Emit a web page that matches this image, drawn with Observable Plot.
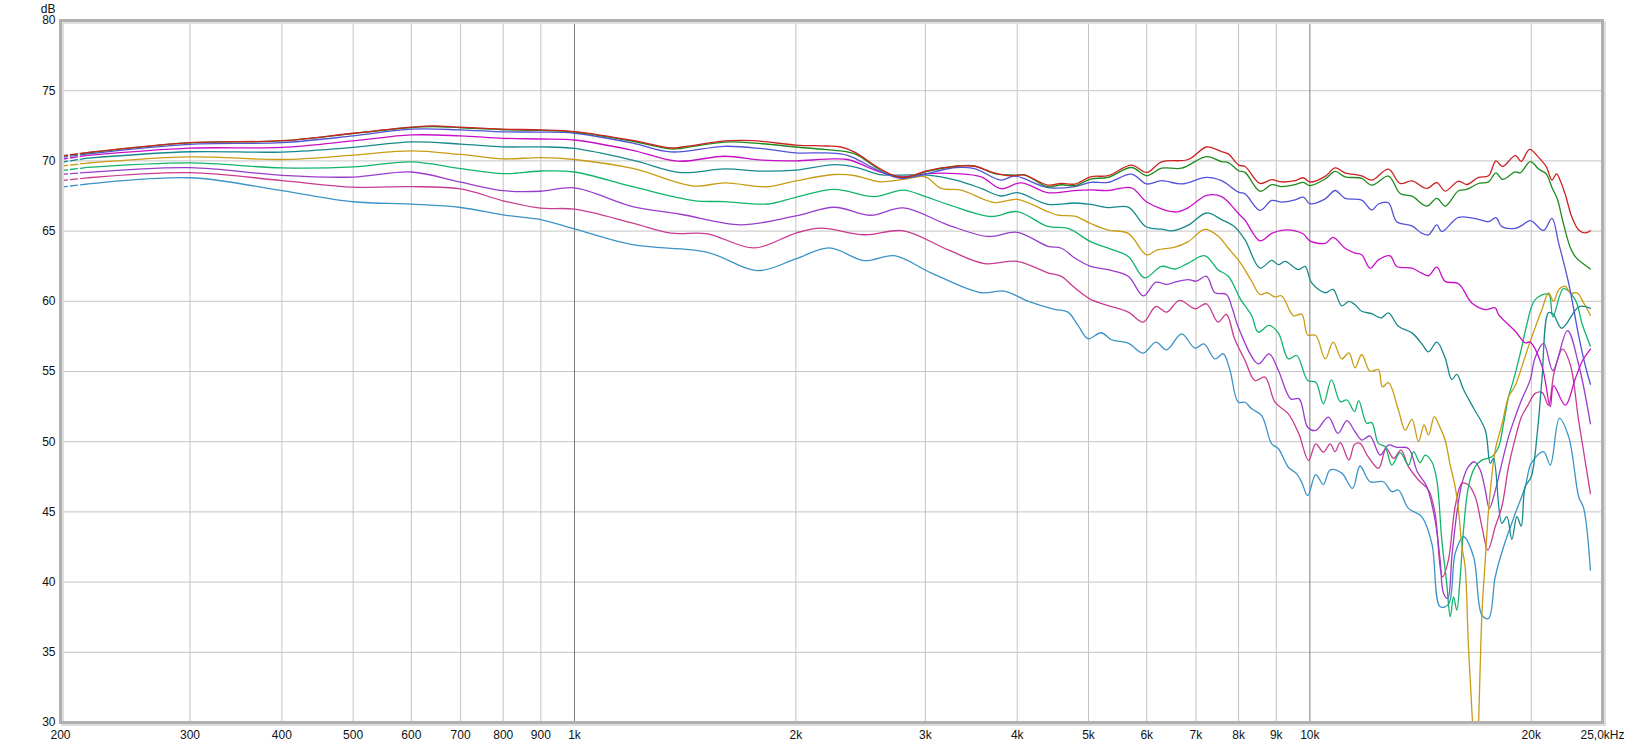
<!DOCTYPE html>
<html>
<head>
<meta charset="utf-8">
<script src="https://cdn.jsdelivr.net/npm/d3@7"></script>
<script src="https://cdn.jsdelivr.net/npm/@observablehq/plot@0.6"></script>
<style>
  html, body { margin: 0; padding: 0; background: #fff; }
  #chart svg { display: block; }
</style>
</head>
<body>
<div id="chart"></div>
<script>
// ---- axis ticks / labels ----
const xTicks = [200, 300, 400, 500, 600, 700, 800, 900, 1000, 2000, 3000, 4000, 5000, 6000, 7000, 8000, 9000, 10000, 20000, 25000];
const xTickLabels = ["200", "300", "400", "500", "600", "700", "800", "900", "1k", "2k", "3k", "4k", "5k", "6k", "7k", "8k", "9k", "10k", "20k", "25,0kHz"];
const xGrid = [300, 400, 500, 600, 700, 800, 900, 2000, 3000, 4000, 5000, 6000, 7000, 8000, 9000, 20000];
const xMajor = [1000, 10000];
const yTicks = [30, 35, 40, 45, 50, 55, 60, 65, 70, 75, 80];
const yUnit = "dB";
const dashedUpTo = 218;

// ---- series: [frequency Hz, level dB] ----
const red = [[200,70.35],[218,70.6],[300,71.3],[400,71.44],[500,71.97],[600,72.4],[642,72.5],[700,72.4],[800,72.26],[900,72.21],[1000,72.09],
[1200,71.46],[1352,70.92],[1400,70.99],[1600,71.42],[1701,71.46],[1800,71.39],[2000,71.13],[2200,71.06],[2303,70.99],[2400,70.64],[2600,69.46],[2722,68.94],[2800,68.82],[2897,68.99],[3000,69.27],[3300,69.62],[3499,69.62],[3723,69.15],[3923,68.94],[4091,68.99],[4402,68.28],
[4593,68.4],[4789,68.35],[5034,68.87],[5318,68.95],[5721,69.7],[6000,69.18],[6286,69.93],[6834,70.1],[7236,70.99],[7584,70.66],[7747,70.5],[8000,69.7],[8163,69.6],[8555,68.4],[8874,68.66],[9156,68.5],[9548,68.6],[9800,68.8],[10000,68.5],[10492,68.9],[10825,69.5],
[11164,69.15],[11762,68.94],[12137,68.63],[12788,69.41],[13268,68.39],[13766,68.58],[14423,68.04],[14881,68.46],[15275,67.85],[15927,68.56],[16347,68.32],[16959,68.82],[17499,68.94],[17906,70.0],[18283,69.6],[19024,70.37],[19380,69.97],[19900,70.82],[20470,70.25],[20960,69.59],[21340,68.64],[21640,69.07],[21900,68.6],[22240,67.64],[22720,65.98],[23200,65.08],[23700,64.87],[24070,65.03]];

const green = [[200,70.33],[218,70.58],[300,71.28],[400,71.42],[500,71.95],[600,72.38],[642,72.45],[700,72.36],[800,72.22],[900,72.17],[1000,72.05],
[1200,71.4],[1352,70.85],[1400,70.9],[1600,71.34],[1800,71.22],[2000,70.99],[2200,70.8],[2400,70.52],[2600,69.39],[2780,68.82],[2897,68.95],[3000,69.22],[3300,69.62],[3499,69.65],[3723,69.1],[3965,68.99],[4091,69.0],[4402,68.16],
[4593,68.3],[4789,68.24],[5034,68.71],[5318,68.83],[5721,69.53],[6000,68.94],[6286,69.48],[6693,69.48],[7236,70.31],[7584,69.95],[7747,69.88],[8000,69.3],[8163,69.18],[8555,67.84],[8874,68.31],[9156,68.17],[9548,68.31],[9800,68.47],[10000,68.24],[10492,68.71],[10825,69.25],
[11164,68.87],[11762,68.75],[12137,68.27],[12788,68.91],[13268,67.68],[13766,67.49],[14423,66.78],[14881,67.33],[15275,66.78],[15927,67.87],[16347,67.97],[16959,68.39],[17499,68.51],[17906,69.15],[18283,68.68],[19024,69.22],[19325,69.15],[19950,69.95],[20470,69.42],[20960,69.07],[21340,68.11],[21700,67.3],[22060,65.78],[22580,63.89],[22960,63.18],[23660,62.58],[24072,62.3]];

const blue = [[200,70.24],[218,70.5],[300,71.18],[400,71.3],[500,71.78],[600,72.26],[700,72.21],[800,72.07],[900,72.05],[1000,71.97],
[1200,71.27],[1352,70.64],[1600,71.04],[1800,70.87],[2000,70.57],[2200,70.57],[2351,70.4],[2600,69.27],[2780,68.75],[2897,68.87],[3085,69.22],[3300,69.53],[3499,69.45],[3802,68.63],[3965,68.92],[4402,68.1],
[4789,68.17],[5034,68.47],[5318,68.47],[5721,69.06],[6000,68.36],[6286,68.59],[6693,68.36],[7236,68.83],[7584,68.59],[8000,67.77],[8163,67.65],[8555,66.48],[8874,67.18],[9156,67.07],[9548,67.23],[9800,67.42],[10000,66.95],[10492,67.3],[10825,67.89],
[11164,67.33],[11762,67.21],[12137,66.5],[12394,66.93],[12788,67.02],[13126,65.67],[13766,65.37],[14194,64.85],[14497,64.73],[14881,65.44],[15115,64.96],[15927,65.98],[16959,65.84],[17499,65.67],[17906,65.96],[18241,65.32],[19024,65.2],[19380,65.37],[19950,65.74],[20789,65.05],[21339,65.91],[21793,64.14],[22485,61.3],[23207,57.52],[23696,55.39],[24072,54.09]];

const magenta = [[200,70.1],[218,70.4],[300,70.91],[400,70.96],[500,71.42],[600,71.85],[700,71.78],[800,71.61],[900,71.56],[1000,71.49],
[1200,70.75],[1380,69.98],[1600,70.33],[1800,70.05],[2000,70.0],[2200,70.12],[2351,70.1],[2600,69.22],[2780,68.87],[3022,69.1],[3300,69.1],[3572,68.87],[3802,68.02],[4049,68.44],[4402,67.74],
[4789,67.89],[5034,67.93],[5318,67.89],[5721,68.08],[6000,67.07],[6553,66.36],[6834,66.67],[7236,67.54],[7584,67.46],[8000,66.24],[8163,65.77],[8555,64.3],[8874,64.84],[9200,65.07],[9548,65.02],[9800,64.79],[10000,64.3],[10492,64.13],[10757,64.56],[11164,63.78],
[11519,63.43],[11762,63.31],[12073,62.36],[12394,62.95],[12855,63.24],[13126,62.48],[13766,62.36],[14194,62.01],[14497,61.82],[14881,62.43],[15275,61.42],[15927,61.25],[16606,59.88],[17318,59.41],[17868,59.53],[18055,59.05],[19024,57.87],[19627,57.04],[19932,57.09],[20680,55.4],[21228,52.5],[21449,54.0],[22253,52.6],[22962,54.5],[23500,55.8],[24072,56.6]];

const teal = [[200,69.9],[218,70.2],[300,70.65],[400,70.63],[500,70.96],[600,71.35],[700,71.2],[800,71.0],[900,71.0],[1000,70.89],
[1200,70.05],[1394,69.17],[1600,69.43],[1800,69.27],[2000,69.34],[2255,69.74],[2400,69.58],[2600,69.03],[2780,68.99],[3022,68.99],[3300,68.63],[3572,68.04],[3802,67.5],[4000,67.74],[4402,66.91],
[4789,67.0],[5034,66.9],[5318,66.67],[5663,66.71],[5987,65.31],[6286,65.14],[6500,65.02],[6834,65.42],[7236,66.29],[7584,65.82],[7900,65.31],[8163,64.37],[8555,62.37],[8874,62.91],[9062,62.61],[9250,62.84],[9650,62.25],[9850,62.49],[10058,61.31],[10492,60.61],[10750,60.85],[11052,59.67],
[11300,60.0],[11519,59.76],[11762,59.29],[12137,59.12],[12500,58.82],[12788,59.17],[13195,58.22],[13766,57.75],[14194,56.99],[14497,56.4],[14881,57.09],[15275,55.97],[15596,54.43],[15840,54.79],[16178,53.72],
[16700,52.38],[17318,50.83],[17592,48.46],[17775,48.81],[18241,44.18],[18531,44.66],[18823,43.04],[19121,44.66],[19380,43.99],[19627,46.79],[20000,47.5],[20400,50.83],[20680,54.4],[21116,59.2],[21430,59.08],[22000,58.08],[23240,59.62],[24072,59.5]];

const gold = [[200,69.62],[218,69.85],[300,70.29],[400,70.1],[500,70.41],[600,70.72],[700,70.46],[800,70.14],[900,70.24],[1000,70.1],
[1200,69.46],[1453,68.21],[1600,68.44],[1830,68.16],[2000,68.58],[2255,69.03],[2400,68.96],[2600,68.51],[2800,68.68],[3000,68.87],[3151,68.04],[3355,67.92],[3723,67.03],[4000,67.26],[4402,66.39],
[4545,66.13],[4789,66.06],[5034,65.54],[5318,65.07],[5663,64.84],[6000,63.31],[6200,63.66],[6553,63.85],[6834,64.25],[7200,65.12],[7500,64.65],[7747,63.78],[8050,62.72],[8334,61.43],[8555,60.49],[8750,60.61],[8950,60.31],[9156,60.38],[9500,58.97],[9750,59.08],[9933,57.6],[10186,57.57],[10492,55.9],[10757,57.09],[11052,55.9],
[11300,56.33],[11519,55.26],[11762,56.21],[12073,55.02],[12394,55.14],[12550,53.9],[12788,54.2],[13195,52.26],[13474,50.83],[13766,51.59],[14050,50.0],[14300,51.19],[14500,50.48],[14770,51.78],[15036,51.0],[15275,50.12],[15500,48.46],[15760,46.79],[15927,45.13],[16100,42.52],[16260,41.09],[16430,35.4],[16640,30],[16800,24],[16960,30],[17140,37.77],[17318,41.57],[17499,45.13],[17868,49.4],[18241,51.19],[18630,53.2],[19024,54.0],[19627,56.09],[20050,57.51],[20680,59.41],[21116,60.59],[21449,60.0],[21800,60.83],[22253,61.07],[22600,60.59],[23100,60.59],[23572,59.88],[24072,59.0]];

const lightGreen = [[200,69.3],[218,69.54],[300,69.86],[400,69.5],[500,69.57],[600,69.93],[700,69.45],[800,69.09],[900,69.28],[1000,69.21],
[1200,68.16],[1453,67.17],[1600,67.1],[1830,66.93],[2000,67.41],[2255,67.97],[2557,67.45],[2800,67.92],[3000,67.45],[3217,66.91],[3685,66.04],[4000,66.39],[4402,65.33],
[4689,65.19],[5034,64.25],[5318,63.78],[5663,63.19],[5960,61.67],[6286,62.49],[6553,62.3],[6834,62.72],[7200,63.24],[7500,62.25],[7747,61.78],[8050,60.14],[8334,58.97],[8507,57.8],[8800,58.28],[9062,57.73],[9349,55.9],[9597,56.14],[9933,54.36],[10186,54.24],[10433,52.7],[10700,54.4],[11000,52.85],
[11230,52.97],[11500,52.14],[11650,52.92],[11950,51.31],[12140,51.36],[12394,49.88],[12660,49.64],[12922,48.34],[13268,49.22],[13616,48.34],[13840,49.29],[14120,48.5],[14350,49.05],[14650,48.57],[14881,47.27],[15115,42.99],[15350,39.9],[15520,37.53],[15680,38.95],[15840,38.0],[16000,40.14],[16178,43.71],[16430,46.79],[16780,48.22],[17140,48.69],[17680,48.93],[18060,49.64],[18340,51.31],[18630,53.2],[18920,54.4],[19380,56.56],[19700,58.22],[20250,60.12],[21116,60.5],[21400,58.9],[22130,60.9],[22962,60.1],[23450,58.4],[24072,56.8]];

const purple = [[200,69.04],[218,69.18],[300,69.52],[400,68.97],[500,68.85],[600,69.21],[700,68.49],[800,67.88],[900,67.84],[1000,68.08],
[1200,66.75],[1394,66.2],[1683,65.45],[2000,66.08],[2255,66.7],[2530,66.13],[2800,66.65],[3217,65.45],[3646,64.62],[4000,64.91],[4402,63.92],
[4593,63.78],[4789,63.08],[5034,62.49],[5318,62.25],[5663,61.78],[5936,60.38],[6175,61.36],[6385,61.2],[6553,61.36],[6834,61.55],[7000,61.43],[7236,61.78],[7429,60.61],[7700,60.49],[7850,59.43],[8000,58.1],[8507,55.55],[8800,56.26],[9062,55.07],[9420,53.05],[9670,53.05],[9933,51.03],[10186,50.8],[10600,51.75],[10920,50.59],
[11230,51.5],[11520,50.71],[11762,50.12],[12073,50.4],[12460,49.05],[12788,49.76],[13130,49.6],[13616,49.52],[14000,47.86],[14423,46.79],[14800,44.42],[15036,41.57],[15200,39.19],[15400,38.84],[15600,41.81],[15840,44.89],[16100,47.03],[16430,48.22],[16750,48.57],[17050,47.98],[17318,46.56],[17540,45.25],[17868,46.5],[18241,48.46],[18630,50.36],[19024,51.78],[19400,52.97],[19932,54.4],[20250,56.0],[20800,57.0],[21400,55.07],[22400,57.91],[23200,55.5],[24072,51.28]];

const pink = [[200,68.6],[218,68.8],[300,69.16],[400,68.6],[500,68.13],[600,68.17],[700,68.0],[800,67.16],[900,66.63],[1000,66.56],
[1200,65.57],[1352,64.86],[1516,64.81],[1755,63.8],[2000,64.86],[2162,65.21],[2478,64.74],[2800,65.02],[3217,63.68],[3609,62.69],[4000,62.85],[4402,62.03],
[4593,61.78],[4789,60.96],[5034,60.14],[5318,59.7],[5663,59.23],[5936,58.52],[6175,59.63],[6385,59.23],[6650,60.06],[6979,59.47],[7236,59.82],[7500,58.52],[7700,59.06],[7900,57.33],[8163,55.78],[8421,54.36],[8689,54.6],[8966,52.81],[9349,51.98],[9660,50.56],[9960,48.66],[10186,49.85],[10433,49.25],[10656,49.85],[10820,49.29],[11000,49.93],
[11300,48.69],[11500,49.8],[11700,49.88],[12000,48.93],[12400,48.1],[12700,49.52],[13000,48.81],[13300,49.4],[13616,48.22],[14050,47.27],[14500,46.56],[14800,44.89],[15036,41.09],[15150,40.38],[15430,41.57],[15760,45.37],[16100,47.03],[16430,46.91],[16780,46.08],[17140,43.94],[17460,42.28],[17868,43.94],[18241,45.37],[18630,48.22],[19024,50.24],[19400,51.78],[19800,52.61],[20250,53.44],[20700,53.5],[21100,52.6],[21500,55.0],[22060,56.6],[22600,55.5],[23200,51.5],[23700,48.5],[24072,46.3]];

const lightBlue = [[200,68.13],[218,68.36],[300,68.8],[400,67.88],[500,67.09],[600,66.92],[700,66.68],[800,66.15],[900,65.82],[1000,65.15],
[1200,64.03],[1516,63.49],[1773,62.19],[2000,63.02],[2220,63.8],[2478,62.9],[2722,63.25],[3053,62.03],[3572,60.61],[3842,60.73],[4134,60.02],[4495,59.43],
[4689,59.23],[4839,58.28],[4993,57.33],[5204,57.76],[5374,57.26],[5663,57.02],[5936,56.31],[6175,57.09],[6385,56.54],[6693,57.68],[6979,56.66],[7176,56.97],[7429,55.9],[7625,56.26],[7787,55.07],[7992,52.81],[8163,52.81],[8334,52.34],[8598,51.86],[8874,49.85],[9062,49.5],[9349,48.18],[9597,47.71],[9747,47.11],[9933,46.16],[10186,47.66],[10433,46.95],[10656,47.99],[11052,47.76],
[11428,46.67],[11700,48.27],[12073,47.15],[12590,47.15],[12922,46.44],[13195,46.56],[13616,45.25],[14194,44.66],[14650,42.76],[15036,38.24],[15434,38.43],[15760,42.04],[16178,43.23],[16695,41.81],[17137,37.65],[17499,37.41],[17868,40.38],[18340,42.52],[19024,44.89],[19627,46.79],[20000,48.46],[20789,49.29],[21228,48.34],[21838,51.66],[22485,50.36],[23207,46.08],[23572,45.25],[24072,40.86]];

// drawing order (first = bottom)
const seriesNames  = ["lightBlue", "pink", "purple", "lightGreen", "gold", "teal", "magenta", "blue", "green", "red"];
const seriesValues = [lightBlue, pink, purple, lightGreen, gold, teal, magenta, blue, green, red];
const seriesColors = ["#3b93c6", "#c93b90", "#9a3ccb", "#12b46a", "#c99c14", "#17898a", "#c80fc8", "#5252d8", "#1e8a1e", "#cc2222"];

// ---- build table ----
const rows = seriesValues.flatMap((pts, i) => pts.map(([f, db]) => ({ f, db, s: seriesNames[i] })));
const labelOf = new Map(xTicks.map((t, i) => [t, xTickLabels[i]]));

const lineMarks = seriesNames.flatMap((name, i) => [
  Plot.line(rows.filter(d => d.s === name && d.f <= dashedUpTo), {
    x: "f", y: "db", stroke: seriesColors[i], strokeWidth: 1.3, strokeDasharray: "7,3", clip: true
  }),
  Plot.line(rows.filter(d => d.s === name && d.f >= dashedUpTo), {
    x: "f", y: "db", stroke: seriesColors[i], strokeWidth: 1.3, curve: "catmull-rom", clip: true
  })
]);

const chart = Plot.plot({
  width: 1633,
  height: 749,
  marginLeft: 60,
  marginRight: 31,
  marginTop: 20,
  marginBottom: 27,
  style: { fontFamily: "'Liberation Sans', Arial, sans-serif", fontSize: "12px", color: "#111", background: "#fff" },
  x: { type: "log", domain: [200, 25000] },
  y: { domain: [30, 80] },
  marks: [
    Plot.gridX(xGrid, { stroke: "#c4c4c4", strokeOpacity: 1, strokeWidth: 1 }),
    Plot.gridY(yTicks, { stroke: "#c4c4c4", strokeOpacity: 1, strokeWidth: 1 }),
    Plot.ruleX(xMajor, { stroke: "#7c7c7c", strokeWidth: 1 }),
    ...lineMarks,
    Plot.frame({ stroke: "#dedede", strokeWidth: 3, dx: 2, dy: 2 }),
    Plot.frame({ stroke: "#b0b0b0", strokeWidth: 3 }),
    Plot.axisX(xTicks, { tickSize: 0, tickPadding: 8, tickFormat: d => labelOf.get(d), label: null }),
    Plot.axisY(yTicks, { tickSize: 0, tickPadding: 5, label: null }),
    Plot.text([{ f: 200, db: 80 }], { x: "f", y: "db", text: () => yUnit, textAnchor: "end", dx: -5, dy: -11 })
  ]
});

document.getElementById("chart").appendChild(chart);
</script>
</body>
</html>
